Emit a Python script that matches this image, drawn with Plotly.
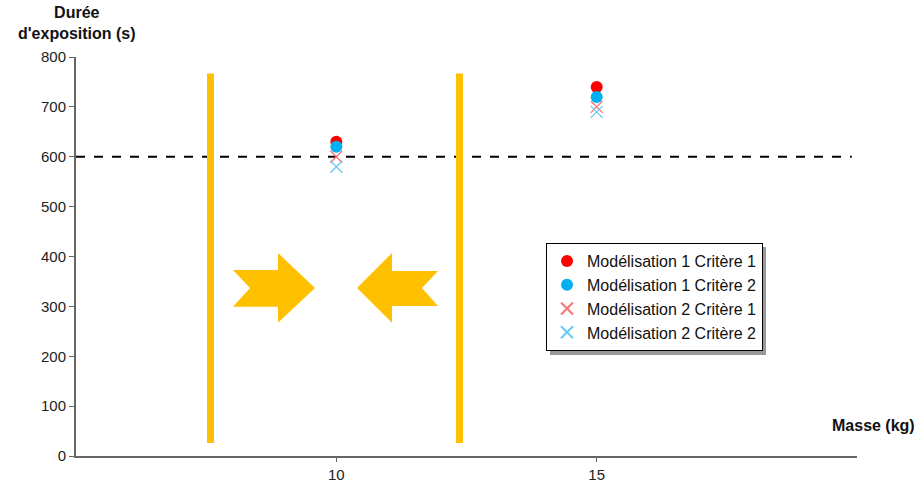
import plotly.graph_objects as go

masse = [10, 15]
m1c1 = [630, 740]
m1c2 = [620, 720]
m2c1 = [600, 700]
m2c2 = [580, 690]
names = ["Modélisation 1 Critère 1", "Modélisation 1 Critère 2",
         "Modélisation 2 Critère 1", "Modélisation 2 Critère 2"]
seuil = 600
x_ticks = [10, 15]
y_ticks = [0, 100, 200, 300, 400, 500, 600, 700, 800]

FONT = "Arial, Liberation Sans, sans-serif"
ORANGE = "#FFC000"

fig = go.Figure()
fig.add_trace(go.Scatter(x=masse, y=m1c1, mode="markers", name=names[0],
                         marker=dict(symbol="circle", size=12, color="#FF0000")))
fig.add_trace(go.Scatter(x=masse, y=m1c2, mode="markers", name=names[1],
                         marker=dict(symbol="circle", size=12, color="#00B0F0")))
fig.add_trace(go.Scatter(x=masse, y=m2c1, mode="markers", name=names[2],
                         marker=dict(symbol="x-thin-open", size=12, color="#FF7070",
                                     line=dict(color="#FF7070", width=1.3))))
fig.add_trace(go.Scatter(x=masse, y=m2c2, mode="markers", name=names[3],
                         marker=dict(symbol="x-thin-open", size=12, color="#66CCF5",
                                     line=dict(color="#66CCF5", width=1.3))))

shapes = []
shapes.append(dict(type="line", xref="x", yref="y", x0=5, x1=19.9, y0=seuil, y1=seuil,
                   line=dict(color="black", width=2, dash="dash"), layer="below"))
for xv in [7.583, 12.365]:
    shapes.append(dict(type="line", xref="x", yref="y", x0=xv, x1=xv, y0=26, y1=767,
                       line=dict(color=ORANGE, width=7), layer="below"))
right_arrow = "M 8.015 373 L 8.879 373 L 8.879 407 L 9.590 337 L 8.879 267 L 8.879 299 L 8.015 299 L 8.342 337 Z"
left_arrow = "M 10.397 337 L 11.069 407 L 11.069 371 L 11.952 371 L 11.645 337 L 11.952 301 L 11.069 301 L 11.069 267 Z"
for p in [right_arrow, left_arrow]:
    shapes.append(dict(type="path", xref="x", yref="y", path=p,
                       fillcolor=ORANGE, line=dict(width=0), layer="below"))

# legend placement (pixels) and its drop shadow
LEG_L, LEG_T, LEG_W, LEG_H = 546, 243, 216, 108
PW, PH = 781, 399
lx0 = (LEG_L - 76) / PW
ly1 = (456 - LEG_T) / PH
shapes.append(dict(type="rect", xref="paper", yref="paper",
                   x0=(LEG_L + 4 - 76) / PW, x1=(LEG_L + LEG_W + 4 - 76) / PW,
                   y0=(456 - (LEG_T + LEG_H + 4)) / PH, y1=(456 - (LEG_T + 4)) / PH,
                   fillcolor="#9A9A9A", line=dict(width=0), layer="above"))

fig.update_layout(
    width=919, height=490,
    margin=dict(l=76, r=62, t=57, b=34, autoexpand=False),
    paper_bgcolor="white", plot_bgcolor="white",
    font=dict(family=FONT, size=15, color="#222"),
    showlegend=True,
    legend=dict(x=lx0, y=ly1, xanchor="left", yanchor="top",
                bgcolor="white", bordercolor="black", borderwidth=1,
                font=dict(family=FONT, size=16, color="#111"),
                tracegroupgap=0, itemsizing="constant"),
    shapes=shapes,
    xaxis=dict(range=[5, 20], tickvals=x_ticks, ticktext=[str(v) for v in x_ticks],
               showgrid=False, zeroline=False, showline=True, linecolor="#666",
               linewidth=2, ticks="outside", ticklen=4, tickcolor="#666", automargin=False,
               tickfont=dict(size=15, color="#222")),
    yaxis=dict(range=[0, 800], tickvals=y_ticks, showgrid=False, zeroline=False,
               showline=True, linecolor="#666", linewidth=2, ticks="outside",
               ticklen=5, tickcolor="#666", automargin=False,
               tickfont=dict(size=15, color="#222")),
    annotations=[
        dict(text="<b>Durée<br>d'exposition (s)</b>", xref="paper", yref="paper",
             x=(77 - 76) / 781, y=1 + 55 / 399, xanchor="center", yanchor="top",
             showarrow=False, align="center",
             font=dict(family=FONT, size=16, color="#111")),
        dict(text="<b>Masse (kg)</b>", xref="paper", yref="paper",
             x=(917 - 76) / 781, y=(456 - 436) / 399, xanchor="right", yanchor="bottom",
             showarrow=False, font=dict(family=FONT, size=16, color="#111")),
    ],
)

fig.write_html("out.html", config={"displayModeBar": False},
               post_script="document.body.style.margin='0';document.body.style.overflow='hidden';")
